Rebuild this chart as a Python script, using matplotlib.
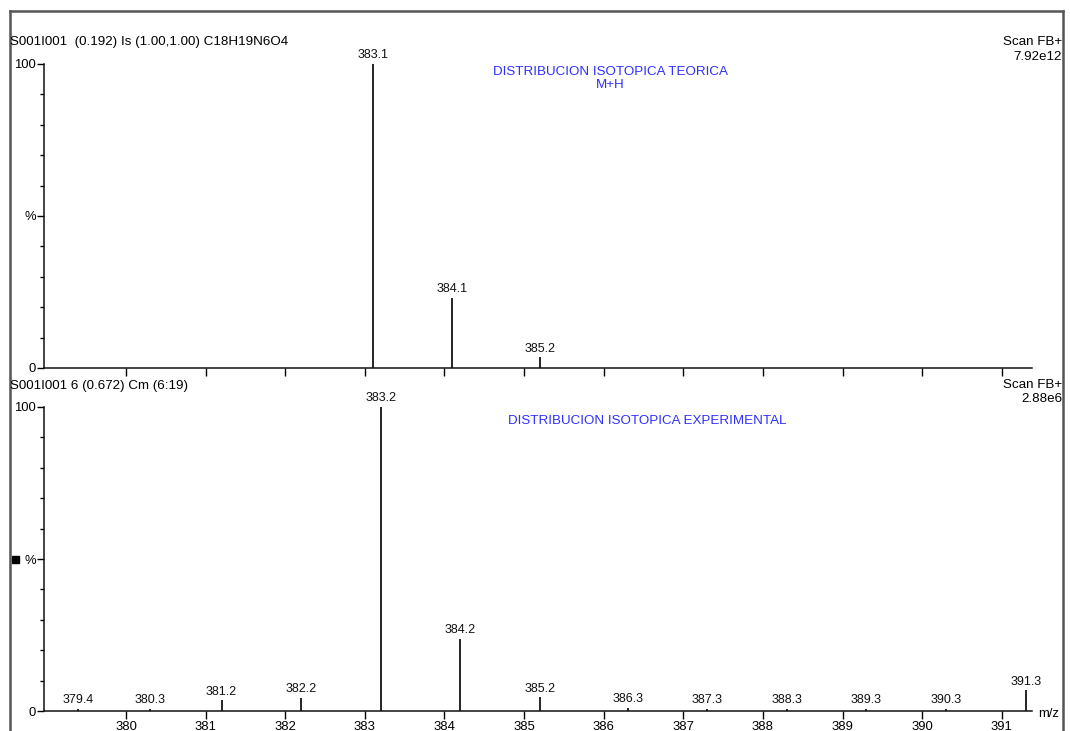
import matplotlib
matplotlib.use("Agg")
import matplotlib.pyplot as plt
from matplotlib.ticker import MultipleLocator, FixedLocator
from matplotlib.lines import Line2D
from matplotlib.patches import Rectangle

plt.rcParams['font.family'] = ['Liberation Sans', 'DejaVu Sans']

# Theoretical isotope distribution (M+H)
theo_mz = [383.1, 384.1, 385.2]
theo_int = [100.0, 23.0, 3.5]

# Experimental spectrum
exp_mz = [379.4, 380.3, 381.2, 382.2, 383.2, 384.2, 385.2,
          386.3, 387.3, 388.3, 389.3, 390.3, 391.3]
exp_int = [0.6, 0.6, 3.5, 4.2, 100.0, 23.6, 4.5,
           0.9, 0.6, 0.6, 0.6, 0.6, 6.8]

mz_ticks = [380, 381, 382, 383, 384, 385, 386, 387, 388, 389, 390, 391]

top_header = "S001I001  (0.192) Is (1.00,1.00) C18H19N6O4"
bot_header = "S001I001 6 (0.672) Cm (6:19)"
top_scale = "7.92e12"
bot_scale = "2.88e6"
top_title = "DISTRIBUCION ISOTOPICA TEORICA"
top_subtitle = "M+H"
bot_title = "DISTRIBUCION ISOTOPICA EXPERIMENTAL"

W, H = 1070, 731
fig = plt.figure(figsize=(W / 100, H / 100), dpi=100)

def fx(px):
    return px / W

def fy(py):
    return 1 - py / H

# page frame
frame_kw = dict(color='#555555', lw=1.8, transform=fig.transFigure)
fig.add_artist(Line2D([fx(10), fx(10)], [fy(11), -0.01], **frame_kw))
fig.add_artist(Line2D([fx(10), fx(1063)], [fy(11), fy(11)], **frame_kw))
fig.add_artist(Line2D([fx(1063), fx(1063)], [fy(11), -0.01], **frame_kw))

XL, XR = 44, 1032
xlim = (378.97, 391.38)
HFS = 9.6     # header text
PFS = 9.0     # peak labels
TFS = 9.4     # tick labels
BLUE = '#2e2eff'


def make_panel(y0_px, y100_px, mz, inten, show_xlabels):
    ax = fig.add_axes([fx(XL), fy(y0_px), fx(XR - XL), (y0_px - y100_px) / H])
    ax.set_xlim(*xlim)
    ax.set_ylim(0, 100)
    for s in ('top', 'right'):
        ax.spines[s].set_visible(False)
    for s in ('left', 'bottom'):
        ax.spines[s].set_linewidth(1.1)
        ax.spines[s].set_color('#111111')
    ax.spines['left'].set_bounds(0, 100)
    ax.patch.set_alpha(0)

    ax.yaxis.set_major_locator(FixedLocator([0, 50, 100]))
    ax.yaxis.set_minor_locator(MultipleLocator(10))
    ax.set_yticklabels(['0', '%', '100'])
    ax.tick_params(axis='y', which='major', length=5, width=1.0, pad=1,
                   labelsize=TFS, direction='out')
    ax.tick_params(axis='y', which='minor', length=3, width=1.0, direction='out')

    ax.xaxis.set_major_locator(FixedLocator(mz_ticks))
    ax.tick_params(axis='x', which='major', length=6, width=1.0, pad=1,
                   labelsize=TFS, direction='out',
                   labelbottom=show_xlabels)
    if show_xlabels:
        ax.set_xticklabels([str(t) for t in mz_ticks])

    ax.vlines(mz, 0, inten, color='black', lw=1.2, clip_on=False)
    for m, v in zip(mz, inten):
        ax.annotate(f"{m:.1f}", (m, v), xytext=(0, 2), textcoords='offset points',
                    ha='center', va='bottom', fontsize=PFS, color='#111111',
                    annotation_clip=False)
    return ax


ax1 = make_panel(368, 64, theo_mz, theo_int, False)
ax2 = make_panel(711, 407, exp_mz, exp_int, True)

# headers
fig.text(fx(10), fy(42), top_header, fontsize=HFS, ha='left', va='center')
fig.text(fx(1062), fy(42), "Scan FB+", fontsize=HFS, ha='right', va='center')
fig.text(fx(1062), fy(57), top_scale, fontsize=HFS, ha='right', va='center')
fig.text(fx(610), fy(72), top_title, fontsize=HFS,
         ha='center', va='center', color=BLUE)
fig.text(fx(610), fy(85), top_subtitle, fontsize=HFS, ha='center', va='center',
         color=BLUE)

fig.text(fx(10), fy(386), bot_header, fontsize=HFS, ha='left', va='center')
fig.text(fx(1062), fy(385), "Scan FB+", fontsize=HFS, ha='right', va='center')
fig.text(fx(1062), fy(399), bot_scale, fontsize=HFS, ha='right', va='center')
fig.text(fx(647), fy(421), bot_title, fontsize=HFS, ha='center', va='center',
         color=BLUE)

fig.text(fx(1038), fy(714), "m/z", fontsize=TFS, ha='left', va='center')

# small marker square beside the lower panel
fig.add_artist(Rectangle((fx(12), fy(563)), 7 / W, 7 / H, color='black',
                         transform=fig.transFigure))

fig.savefig("out.png", dpi=100, facecolor='white')
